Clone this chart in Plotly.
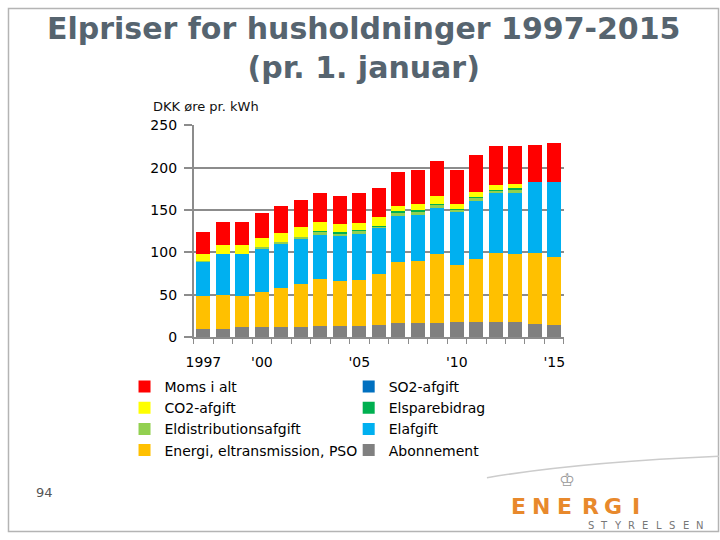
import plotly.graph_objects as go

years = list(range(1997, 2016))
abonnement = [9.8, 9.7, 11.6, 11.6, 11.6, 11.6, 12.7, 12.7, 12.7, 14.6, 16.5, 16.5, 16.5, 17.7, 17.7, 17.7, 17.7, 15.8, 14.2]
energi = [39.0, 39.8, 37.1, 41.7, 46.3, 51.0, 56.3, 53.6, 54.8, 59.4, 71.7, 73.6, 81.6, 67.0, 74.3, 81.9, 80.8, 83.8, 80.1]
elafgift = [40.2, 48.2, 49.0, 50.2, 51.7, 52.6, 51.5, 53.3, 54.4, 54.4, 54.7, 54.0, 54.4, 63.0, 68.2, 70.1, 71.2, 83.5, 88.8]
eldistribution = [0.5, 0.6, 0.6, 2.5, 2.7, 3.5, 3.5, 2.4, 3.0, 2.0, 3.8, 3.9, 3.0, 2.0, 4.5, 3.0, 3.9, 0.0, 0.0]
elsparebidrag = [0.0, 0.3, 0.3, 0.0, 0.0, 0.0, 1.0, 1.8, 2.0, 1.0, 2.0, 1.8, 1.6, 2.0, 1.2, 0.9, 1.9, 0.0, 0.0]
co2_afgift = [8.6, 10.0, 9.9, 11.5, 11.0, 11.5, 11.0, 10.0, 7.7, 10.4, 6.5, 7.3, 9.6, 5.0, 5.7, 6.5, 5.7, 0.0, 0.0]
so2_afgift = [0.0] * 19
moms = [25.7, 27.4, 27.5, 28.5, 31.1, 31.8, 34.1, 32.9, 35.4, 34.4, 40.2, 40.2, 41.7, 40.6, 43.3, 45.9, 44.8, 44.1, 46.0]

tick_years = [1997, 2000, 2005, 2010, 2015]
tick_text = ["1997", "'00", "'05", "'10", "'15"]

# bottom-up stacking order: (name, values, color, legend, rank)
series = [
    ("Abonnement", abonnement, "#808080", "legend2", 4),
    ("Energi, eltransmission, PSO", energi, "#ffc000", "legend", 4),
    ("Elafgift", elafgift, "#00b0f0", "legend2", 3),
    ("Eldistributionsafgift", eldistribution, "#92d050", "legend", 3),
    ("Elsparebidrag", elsparebidrag, "#00b050", "legend2", 2),
    ("CO2-afgift", co2_afgift, "#ffff00", "legend", 2),
    ("SO2-afgift", so2_afgift, "#0070c0", "legend2", 1),
    ("Moms i alt", moms, "#ff0000", "legend", 1),
]

FONT = "DejaVu Sans"
fig = go.Figure()
for name, vals, col, leg, rank in series:
    fig.add_trace(go.Bar(x=years, y=vals, name=name, marker=dict(color=col, line=dict(width=0)),
                         legend=leg, legendrank=rank, width=0.71))

# plot area in pixels
X0, X1, Y0, Y1 = 188, 563, 121, 339


def px(x):
    return x / 720


def py(y):
    return 1 - y / 540


leg_common = dict(xanchor="left", yanchor="top", orientation="v", traceorder="normal",
                  font=dict(size=14, family=FONT, color="#000"), bgcolor="rgba(0,0,0,0)",
                  tracegroupgap=0, itemwidth=30)

fig.update_layout(
    width=720, height=540,
    margin=dict(l=0, r=0, t=0, b=0),
    paper_bgcolor="white", plot_bgcolor="white",
    barmode="stack",
    showlegend=True,
    font=dict(family=FONT, color="#000000"),
    xaxis=dict(domain=[px(X0), px(X1)], range=[1996.5, 2015.5], tickvals=tick_years, ticktext=tick_text,
               ticks="", showgrid=False, showline=True, linecolor="#8c8c8c", linewidth=1.5,
               ticklabelstandoff=11,
               tickfont=dict(size=14, family=FONT, color="#000"),
               minor=dict(tick0=1996.5, dtick=1, ticks="outside", ticklen=5, tickcolor="#8c8c8c", tickwidth=1),
               zeroline=False, fixedrange=True),
    yaxis=dict(domain=[py(Y1), py(Y0)], range=[0, 250], dtick=50, showgrid=True, gridcolor="#8c8c8c", gridwidth=1.5,
               showline=True, linecolor="#8c8c8c", linewidth=1.5,
               ticks="outside", ticklen=8, tickcolor="#8c8c8c", tickwidth=1.5,
               ticklabelstandoff=4,
               tickfont=dict(size=14, family=FONT, color="#000"), zeroline=False),
    legend=dict(x=px(118), y=py(374), **leg_common),
    legend2=dict(x=px(345), y=py(374), **leg_common),
)

ann = []
ann.append(dict(text="<b>Elpriser for husholdninger 1997-2015<br>(pr. 1. januar)</b>",
                x=px(360), y=py(41), xref="paper", yref="paper", showarrow=False,
                xanchor="center", yanchor="middle",
                font=dict(size=30, family=FONT, color="#56646f")))
ann.append(dict(text="DKK øre pr. kWh", x=px(145), y=py(102), xref="paper", yref="paper",
                showarrow=False, xanchor="left", yanchor="middle",
                font=dict(size=13, family=FONT, color="#111")))
ann.append(dict(text="94", x=px(37), y=py(499), xref="paper", yref="paper",
                showarrow=False, xanchor="center", yanchor="middle",
                font=dict(size=13, family=FONT, color="#555")))
for ch, xc in zip("ENERGI", [517, 540, 564, 590, 613, 636]):
    ann.append(dict(text="<b>" + ch + "</b>", x=px(xc), y=py(514), xref="paper", yref="paper",
                    showarrow=False, xanchor="center", yanchor="middle",
                    font=dict(size=22, family=FONT, color="#e8892c")))
for i, ch in enumerate("STYRELSEN"):
    ann.append(dict(text=ch, x=px(590 + i * 13.8), y=py(533), xref="paper", yref="paper",
                    showarrow=False, xanchor="center", yanchor="middle",
                    font=dict(size=10, family=FONT, color="#777")))
ann.append(dict(text="♔", x=px(566), y=py(486), xref="paper", yref="paper",
                showarrow=False, xanchor="center", yanchor="middle",
                font=dict(size=18, family=FONT, color="#999")))
fig.update_layout(annotations=ann)

fig.add_shape(type="rect", xref="paper", yref="paper", x0=px(0.5), x1=px(719.5), y0=py(539.5), y1=py(0.5),
              line=dict(color="#b4b4b4", width=1.5), layer="below")
fig.add_shape(type="path", xref="paper", yref="paper",
              path=f"M {px(485)} {py(484)} Q {px(580)} {py(468)} {px(720)} {py(462)}",
              line=dict(color="#cccccc", width=1.5))

fig.write_html("out.html")
